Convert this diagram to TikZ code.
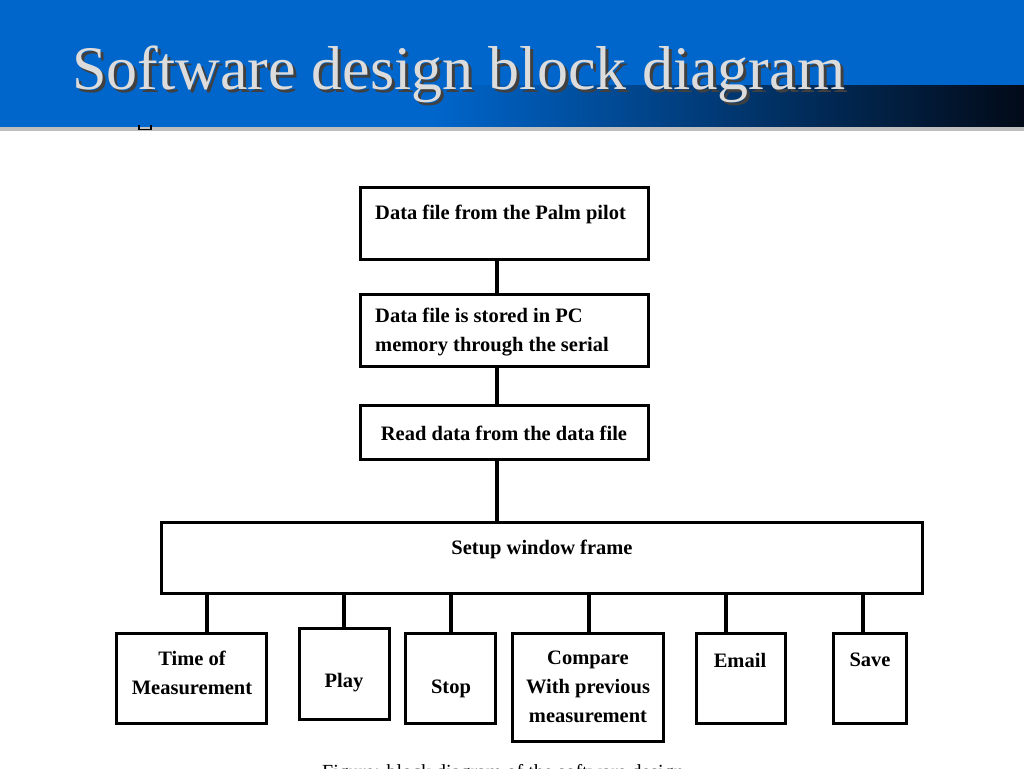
\documentclass[tikz,border=0pt]{standalone}
\usepackage{fontspec}
\setmainfont{Liberation Serif}
\definecolor{titleblue}{RGB}{0,102,204}
\definecolor{titledark}{RGB}{2,10,24}
\definecolor{titlegray}{RGB}{220,220,220}
\definecolor{rulegray}{RGB}{190,190,190}
\begin{document}
\begin{tikzpicture}[x=1pt,y=-1pt,
  box/.style={draw=black, line width=3.5pt, inner sep=0pt},
  txt/.style={font=\fontsize{20.5}{29}\selectfont\bfseries, inner sep=0pt, align=center},
  conn/.style={draw=black, line width=3.5pt}]
\useasboundingbox (0,0) rectangle (1024,768);
\fill[white] (0,0) rectangle (1024,768);
% title bar
\fill[titleblue] (0,0) rectangle (1024,127);
\shade[left color=titleblue, right color=titledark] (430,85) rectangle (1024,127);
\fill[rulegray] (0,127) rectangle (1024,131);
\draw[black, line width=1.5pt] (139,125) -- (139,129.5) -- (151,129.5) -- (151,125);
\node[anchor=base west, inner sep=0pt, font=\fontsize{62}{62}\selectfont, text=black!75] (titleshadow) at (75,92) {Software design block diagram};
\node[anchor=base west, inner sep=0pt, font=\fontsize{62}{62}\selectfont, text=titlegray] (title) at (72,89) {Software design block diagram};
% boxes
\node[box, minimum width=288, minimum height=72] (b1) at (504.5,223.5) {};
\node[box, minimum width=288, minimum height=72] (b2) at (504.5,330.5) {};
\node[box, minimum width=288, minimum height=54] (b3) at (504.5,432.5) {};
\node[box, minimum width=761, minimum height=71] (b4) at (542,558) {};
\node[box, minimum width=150, minimum height=90] (c1) at (191.5,678.5) {};
\node[box, minimum width=90, minimum height=91] (c2) at (344.5,674) {};
\node[box, minimum width=90, minimum height=90] (c3) at (450.5,678.5) {};
\node[box, minimum width=151, minimum height=108] (c4) at (588,687.5) {};
\node[box, minimum width=89, minimum height=90] (c5) at (741,678.5) {};
\node[box, minimum width=73, minimum height=90] (c6) at (870,678.5) {};
% texts
\node[txt, anchor=west] (t1) at (375,214) {Data file from the Palm pilot};
\node[txt, anchor=west, align=left] (t2) at (375,332) {Data file is stored in PC\\memory through the serial};
\node[txt] (t3) at (504,433) {Read data from the data file};
\node[txt] (t4) at (542,549) {Setup window frame};
\node[txt] (tc1) at (192,673) {Time of\\Measurement};
\node[txt] (tc2) at (344,683) {Play};
\node[txt] (tc3) at (451,689) {Stop};
\node[txt] (tc4) at (588,687) {Compare\\With previous\\measurement};
\node[txt] (tc5) at (740,660) {Email};
\node[txt] (tc6) at (870,660) {Save};
% connectors
\coordinate (trunk) at (497,0);
\draw[conn] (b1.south -| trunk) -- (b2.north -| trunk);
\draw[conn] (b2.south -| trunk) -- (b3.north -| trunk);
\draw[conn] (b3.south -| trunk) -- (b4.north -| trunk);
\coordinate (x1) at (207,0);
\coordinate (x2) at (344,0);
\coordinate (x3) at (451,0);
\coordinate (x4) at (589,0);
\coordinate (x5) at (726,0);
\coordinate (x6) at (863,0);
\draw[conn] (b4.south -| x1) -- (c1.north -| x1);
\draw[conn] (b4.south -| x2) -- (c2.north -| x2);
\draw[conn] (b4.south -| x3) -- (c3.north -| x3);
\draw[conn] (b4.south -| x4) -- (c4.north -| x4);
\draw[conn] (b4.south -| x5) -- (c5.north -| x5);
\draw[conn] (b4.south -| x6) -- (c6.north -| x6);
% caption (cut off by page edge, as in the reference)
\node[anchor=base west, inner sep=0pt, font=\fontsize{20}{24}\selectfont] (caption) at (322,778) {Figure: block diagram of the software design};
\end{tikzpicture}
\end{document}
